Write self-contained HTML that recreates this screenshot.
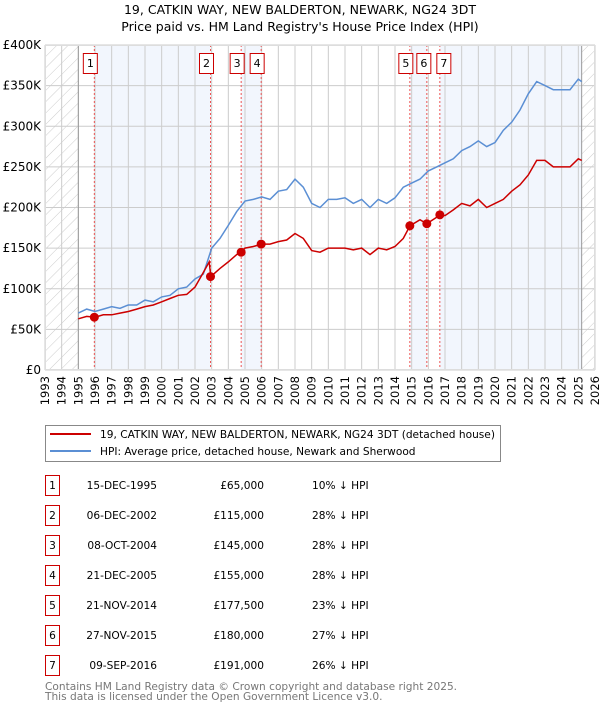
<!DOCTYPE html>
<html><head><meta charset="utf-8"><style>
body{margin:0;background:#fff;font-family:"DejaVu Sans","Liberation Sans",sans-serif;}
svg text{font-family:"DejaVu Sans","Liberation Sans",sans-serif;}
</style></head><body>
<svg id="chart" width="600" height="710" xmlns="http://www.w3.org/2000/svg">
<defs><pattern id="hatch" width="8" height="8" patternUnits="userSpaceOnUse" patternTransform="rotate(45)"><line x1="0" y1="0" x2="0" y2="8" stroke="#ccc" stroke-width="1"/></pattern></defs>
<text x="300" y="14" text-anchor="middle" font-size="12.5">19, CATKIN WAY, NEW BALDERTON, NEWARK, NG24 3DT</text>
<text x="300" y="31" text-anchor="middle" font-size="12.5">Price paid vs. HM Land Registry's House Price Index (HPI)</text>
<g id="plot"></g>
<g>
<rect x="45.5" y="425.5" width="455" height="36" fill="#fff" stroke="#888"/>
<line x1="50" y1="434" x2="91" y2="434" stroke="#cc0000" stroke-width="2"/>
<text x="100" y="438" font-size="10.6">19, CATKIN WAY, NEW BALDERTON, NEWARK, NG24 3DT (detached house)</text>
<line x1="50" y1="451" x2="91" y2="451" stroke="#5b8fd4" stroke-width="2"/>
<text x="100" y="455" font-size="10.6">HPI: Average price, detached house, Newark and Sherwood</text>
</g>
<g id="table"></g>
<text x="45" y="690" font-size="10.6" fill="#777">Contains HM Land Registry data © Crown copyright and database right 2025.</text>
<text x="45" y="700" font-size="10.6" fill="#777">This data is licensed under the Open Government Licence v3.0.</text>
</svg>
<script>
const hpiYears=[1995,1995.5,1996,1996.5,1997,1997.5,1998,1998.5,1999,1999.5,2000,2000.5,2001,2001.5,2002,2002.5,2003,2003.5,2004,2004.5,2005,2005.5,2006,2006.5,2007,2007.5,2008,2008.5,2009,2009.5,2010,2010.5,2011,2011.5,2012,2012.5,2013,2013.5,2014,2014.5,2015,2015.5,2016,2016.5,2017,2017.5,2018,2018.5,2019,2019.5,2020,2020.5,2021,2021.5,2022,2022.5,2023,2023.5,2024,2024.5,2025,2025.2];
const hpiValues=[70,75,72,75,78,76,80,80,86,84,90,92,100,102,112,118,150,162,178,195,208,210,213,210,220,222,235,225,205,200,210,210,212,205,210,200,210,205,212,225,230,235,245,250,255,260,270,275,282,275,280,295,305,320,340,355,350,345,345,345,358,355];
const priceYears=[1995,1995.5,1996,1996.5,1997,1997.5,1998,1998.5,1999,1999.5,2000,2000.5,2001,2001.5,2002,2002.5,2002.85,2002.95,2003.5,2004,2004.5,2005,2005.5,2006,2006.5,2007,2007.5,2008,2008.5,2009,2009.5,2010,2010.5,2011,2011.5,2012,2012.5,2013,2013.5,2014,2014.5,2014.9,2015.5,2015.9,2016.5,2016.7,2017,2017.5,2018,2018.5,2019,2019.5,2020,2020.5,2021,2021.5,2022,2022.5,2023,2023.5,2024,2024.5,2025,2025.2];
const priceValues=[63,66,65,68,68,70,72,75,78,80,84,88,92,93,102,120,133,115,125,133,142,150,152,155,155,158,160,168,162,147,145,150,150,150,148,150,142,150,148,152,162,177.5,185,180,188,191,190,197,205,202,210,200,205,210,220,228,240,258,258,250,250,250,260,258];
const saleLabels=["1","2","3","4","5","6","7"];
const saleYears=[1995.96,2002.93,2004.77,2005.97,2014.89,2015.91,2016.69];
const salePrices=[65,115,145,155,177.5,180,191];
const saleDates=["15-DEC-1995","06-DEC-2002","08-OCT-2004","21-DEC-2005","21-NOV-2014","27-NOV-2015","09-SEP-2016"];
const salePriceText=["£65,000","£115,000","£145,000","£155,000","£177,500","£180,000","£191,000"];
const saleHpiText=["10% ↓ HPI","28% ↓ HPI","28% ↓ HPI","28% ↓ HPI","23% ↓ HPI","27% ↓ HPI","26% ↓ HPI"];
const yTicks=[0,50,100,150,200,250,300,350,400];
const yTickLabels=["£0","£50K","£100K","£150K","£200K","£250K","£300K","£350K","£400K"];
const dataStart=1995,dataEnd=2025.2;

const NS="http://www.w3.org/2000/svg";
const X0=45,X1=595,Y0=370,Y1=45,YMIN=1993,YMAX=2026;
const xs=y=>X0+(y-YMIN)/(YMAX-YMIN)*(X1-X0);
const ys=v=>Y0-v/400*(Y0-Y1);
function mk(tag,attrs,parent){const e=document.createElementNS(NS,tag);for(const k in attrs)e.setAttribute(k,attrs[k]);parent.appendChild(e);return e;}
const plot=document.getElementById('plot');
let bg=mk('rect',{x:X0,y:Y1,width:X1-X0,height:Y0-Y1,fill:'#fff'},plot);


const bounds=saleYears.concat([dataEnd]);
for(let i=0;i<bounds.length-1;i++){ if(i%2===0){
 let r=mk('rect',{x:xs(bounds[i]),y:Y1,width:xs(bounds[i+1])-xs(bounds[i]),height:Y0-Y1,fill:'#eef3fc',opacity:0.75},plot);
 
 }}
let h1=mk('rect',{x:X0,y:Y1,width:xs(dataStart)-X0,height:Y0-Y1,fill:'url(#hatch)'},plot);


let h2=mk('rect',{x:xs(dataEnd),y:Y1,width:X1-xs(dataEnd),height:Y0-Y1,fill:'url(#hatch)'},plot);


for(let y=YMIN;y<=YMAX;y++){
 let l=mk('line',{x1:xs(y),x2:xs(y),y1:Y1,y2:Y0,stroke:'#ccc','stroke-width':1},plot);
 
 
 let t=mk('text',{x:0,y:0,'font-size':11.5,'text-anchor':'end',transform:`translate(${xs(y)+4},${Y0+6}) rotate(-90)`},plot);
 t.textContent=y;
 
 
}
yTicks.forEach((v,i)=>{
 let l=mk('line',{x1:X0,x2:X1,y1:ys(v),y2:ys(v),stroke:'#ccc','stroke-width':1},plot);
 
 
 let t=mk('text',{x:X0-4,y:ys(v)+4,'font-size':12,'text-anchor':'end'},plot);
 t.textContent=yTickLabels[i];
 
 
});
[dataStart,dataEnd].forEach(y=>{let l=mk('line',{x1:xs(y),x2:xs(y),y1:Y1,y2:Y0,stroke:'#999','stroke-width':1},plot);
 
 });
saleYears.forEach((y,i)=>{
 let l=mk('line',{x1:xs(y),x2:xs(y),y1:Y1,y2:Y0,stroke:'#ee5555','stroke-width':1,'stroke-dasharray':'2,2'},plot);
 
 
});
function path(xsA,vs){return xsA.map((y,i)=>(i?'L':'M')+xs(y).toFixed(1)+','+ys(vs[i]).toFixed(1)).join('');}
let hp=mk('path',{d:path(hpiYears,hpiValues),fill:'none',stroke:'#5b8fd4','stroke-width':1.5},plot);


let pp=mk('path',{d:path(priceYears,priceValues),fill:'none',stroke:'#cc0000','stroke-width':1.5},plot);


saleYears.forEach((y,i)=>{
 let c=mk('circle',{cx:xs(y),cy:ys(salePrices[i]),r:4.5,fill:'#cc0000'},plot);
 
 
 const lx=(i===5)?xs(y)-3:(i===6)?xs(y)+4:xs(y)-4;
 let r=mk('rect',{x:lx-7,y:53.5,width:14,height:20,fill:'#fff',stroke:'#cc0000'},plot);
 
 
 let t=mk('text',{x:lx,y:67,'font-size':11,'text-anchor':'middle'},plot);
 t.textContent=saleLabels[i];
 
 
});
let fr=mk('rect',{x:X0+0.5,y:Y1+0.5,width:X1-X0-1,height:Y0-Y1-1,fill:'none',stroke:'#ddd'},plot);


const tb=document.getElementById('table');
saleLabels.forEach((s,i)=>{
 const y=475+30*i;
 let g=mk('g',{},tb);
 
 
 mk('rect',{x:45.5,y:y+0.5,width:14,height:20,fill:'#fff',stroke:'#cc0000'},g);
 let a=mk('text',{x:52.5,y:y+14,'font-size':10.6,'text-anchor':'middle'},g);a.textContent=s;
 let b=mk('text',{x:157,y:y+14,'font-size':10.6,'text-anchor':'end'},g);b.textContent=saleDates[i];
 let c=mk('text',{x:264,y:y+14,'font-size':10.6,'text-anchor':'end'},g);c.textContent=salePriceText[i];
 let d=mk('text',{x:312,y:y+14,'font-size':10.6},g);d.textContent=saleHpiText[i];
});
</script>
</body></html>
